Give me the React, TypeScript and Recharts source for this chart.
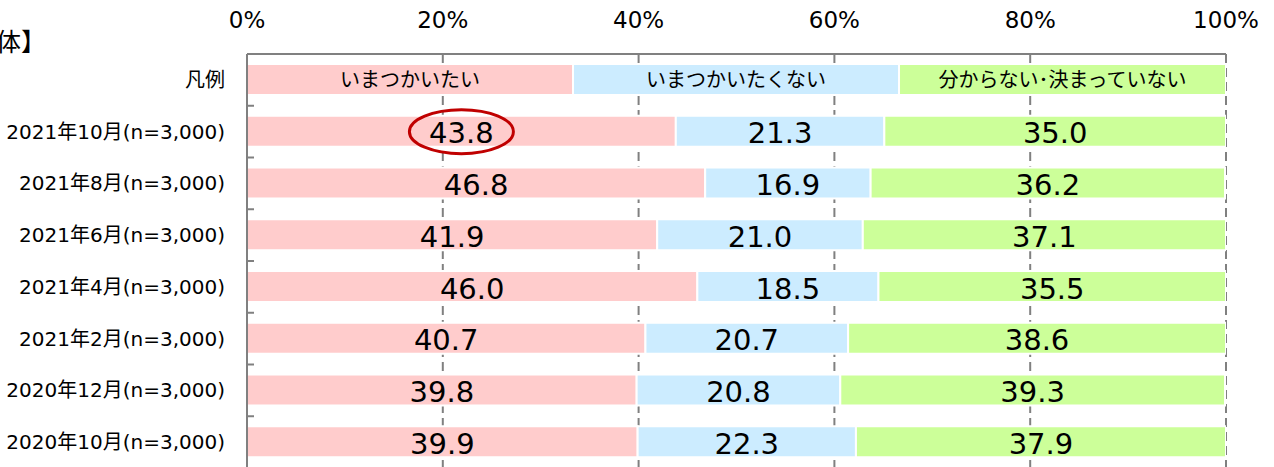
import React from "react";
import {
  BarChart,
  Bar,
  XAxis,
  YAxis,
  CartesianGrid,
  LabelList,
  ReferenceDot,
} from "recharts";

const categories = [
  "凡例",
  "2021年10月(n=3,000)",
  "2021年8月(n=3,000)",
  "2021年6月(n=3,000)",
  "2021年4月(n=3,000)",
  "2021年2月(n=3,000)",
  "2020年12月(n=3,000)",
  "2020年10月(n=3,000)",
];
const want = [33.3, 43.8, 46.8, 41.9, 46.0, 40.7, 39.8, 39.9];
const notWant = [33.3, 21.3, 16.9, 21.0, 18.5, 20.7, 20.8, 22.3];
const undecided = [33.4, 35.0, 36.2, 37.1, 35.5, 38.6, 39.3, 37.9];
const seriesNames = ["いまつかいたい", "いまつかいたくない", "分からない･決まっていない"];
const xTicks = [0, 20, 40, 60, 80, 100];

const data = categories.map((name, i) => ({
  name,
  want: want[i],
  notWant: notWant[i],
  undecided: undecided[i],
}));

const W = 1274;
const H = 468;
const TOP = 54;
const BAND = (H - TOP) / categories.length;
const FONT = '"DejaVu Sans", "Noto Sans CJK JP", sans-serif';

const CategoryTick = (props: any) => {
  const { x, y, payload } = props;
  return (
    <g>
      <text
        x={x}
        y={y}
        textAnchor="end"
        dominantBaseline="central"
        fontSize={20}
        fontFamily={FONT}
        fill="#000"
      >
        {payload.value}
      </text>
      {payload.index > 0 && (
        <line x1={x + 22} x2={x + 29} y1={y - BAND / 2} y2={y - BAND / 2} stroke="#808080" strokeWidth={2} />
      )}
    </g>
  );
};

// legend row shows the series name, the rest show the value
const makeLabel = (seriesIdx: number) => (props: any) => {
  const { x, y, width, height, value, index } = props;
  const cx = x + width / 2;
  const cy = y + height / 2;
  if (index === 0) {
    return (
      <text x={cx} y={cy} textAnchor="middle" dominantBaseline="central" fontSize={20} fontFamily={FONT} fill="#000">
        {seriesNames[seriesIdx]}
      </text>
    );
  }
  return (
    <text x={cx} y={cy + 2} textAnchor="middle" dominantBaseline="central" fontSize={29} fontFamily={FONT} fill="#000">
      {Number(value).toFixed(1)}
    </text>
  );
};

const Ellipse = (props: any) => (
  <ellipse cx={props.cx} cy={props.cy} rx={52} ry={22} fill="none" stroke="#C00000" strokeWidth={3} />
);

const App = () => {
  return (
    <div style={{ position: "absolute", left: 0, top: 0, width: W, height: 467, overflow: "hidden", background: "#fff" }}>
      <div
        style={{
          position: "absolute",
          right: W - 46,
          top: 24,
          fontSize: 25,
          fontFamily: '"Noto Sans CJK JP", sans-serif',
          whiteSpace: "nowrap",
          lineHeight: "32px",
        }}
      >
        【全体】
      </div>
      <BarChart
        width={W}
        height={H}
        data={data}
        layout="vertical"
        margin={{ top: 20, right: 48, left: 0, bottom: 0 }}
        barSize={31}
      >
        <CartesianGrid horizontal={false} stroke="#808080" strokeWidth={2} strokeDasharray="9 5" />
        <XAxis
          type="number"
          orientation="top"
          domain={[0, 100]}
          ticks={xTicks}
          allowDataOverflow
          height={34}
          tickFormatter={(v) => `${v}%`}
          tickLine={false}
          tickSize={0}
          tickMargin={26}
          axisLine={{ stroke: "#808080", strokeWidth: 2 }}
          tick={{ fontSize: 23, fontFamily: FONT, fill: "#000" }}
        />
        <YAxis
          type="category"
          dataKey="name"
          width={247}
          tickLine={false}
          tickSize={0}
          tickMargin={22}
          axisLine={{ stroke: "#808080", strokeWidth: 2 }}
          tick={<CategoryTick />}
          interval={0}
        />
        <Bar dataKey="want" stackId="a" fill="#FFCCCC" stroke="#fff" strokeWidth={2} isAnimationActive={false}>
          <LabelList dataKey="want" content={makeLabel(0)} />
        </Bar>
        <Bar dataKey="notWant" stackId="a" fill="#CCECFF" stroke="#fff" strokeWidth={2} isAnimationActive={false}>
          <LabelList dataKey="notWant" content={makeLabel(1)} />
        </Bar>
        <Bar dataKey="undecided" stackId="a" fill="#CCFF99" stroke="#fff" strokeWidth={2} isAnimationActive={false}>
          <LabelList dataKey="undecided" content={makeLabel(2)} />
        </Bar>
        <ReferenceDot x={want[1] / 2} y={categories[1]} ifOverflow="visible" shape={<Ellipse />} />
      </BarChart>
    </div>
  );
};

export default App;
